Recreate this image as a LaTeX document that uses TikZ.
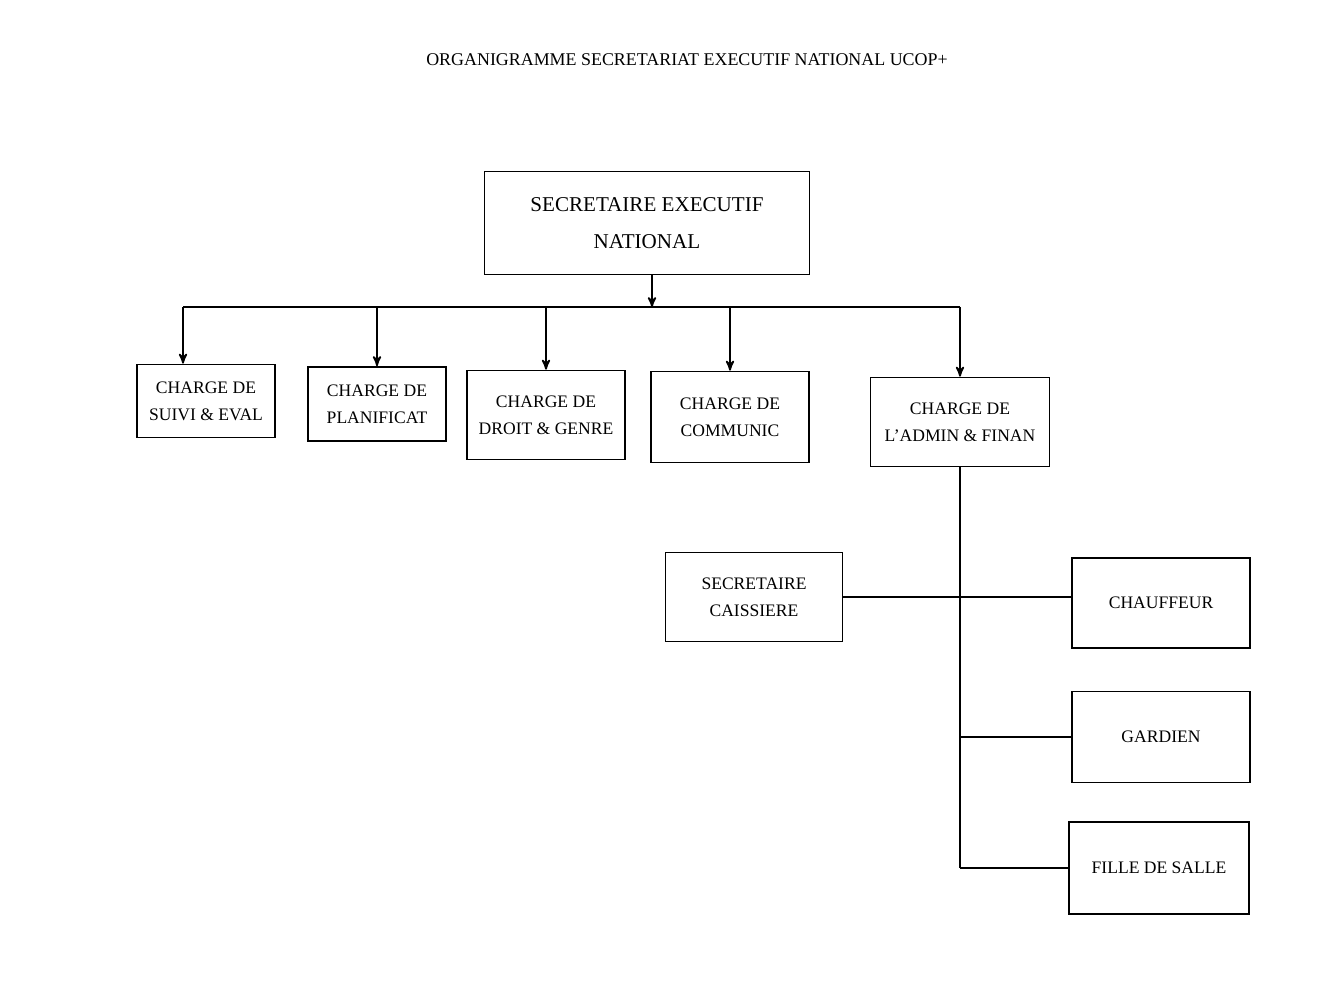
\documentclass[tikz,border=0pt]{standalone}
\usepackage{fontspec}
\setmainfont{Liberation Serif}
\usepackage{tikz}
\usetikzlibrary{arrows,positioning,calc}

\tikzset{
  postbox/.style={draw, rectangle, line width=1pt, inner sep=0pt, align=center,
    font=\fontsize{10}{15.5}\selectfont},
  linkline/.style={line width=1pt},
}

\begin{document}
\begin{tikzpicture}[x=0.02cm, y=-0.02cm, >=stealth']
    \useasboundingbox (0,0) rectangle (1332,1003);

    \node [font=\fontsize{10.2}{12}\selectfont] (title) at (687,60) {ORGANIGRAMME SECRETARIAT EXECUTIF NATIONAL UCOP+};

    % top level
    \node [postbox, minimum width=6.5cm, minimum height=2.06cm, font=\fontsize{12}{21}\selectfont] (sen) at (647,223) {SECRETAIRE EXECUTIF\\NATIONAL};

    % charges
    \node [postbox, minimum width=2.76cm, minimum height=1.46cm] (suivi) at (206,401) {CHARGE DE\\SUIVI \& EVAL};
    \node [postbox, minimum width=2.76cm, minimum height=1.48cm] (planif) at (377,404) {CHARGE DE\\PLANIFICAT};
    \node [postbox, minimum width=3.16cm, minimum height=1.78cm] (droit) at (546,415) {CHARGE DE\\DROIT \& GENRE};
    \node [postbox, minimum width=3.16cm, minimum height=1.82cm] (commun) at (730,417) {CHARGE DE\\COMMUNIC};
    \node [postbox, minimum width=3.58cm, minimum height=1.78cm] (admin) at (960,422) {CHARGE DE\\L'ADMIN \& FINAN};

    % under admin
    \node [postbox, minimum width=3.54cm, minimum height=1.78cm] (caiss) at (754,597) {SECRETAIRE\\CAISSIERE};
    \node [postbox, minimum width=3.56cm, minimum height=1.80cm] (chauf) at (1161,603) {CHAUFFEUR};
    \node [postbox, minimum width=3.56cm, minimum height=1.82cm] (gard) at (1161,737) {GARDIEN};
    \node [postbox, minimum width=3.60cm, minimum height=1.84cm] (fille) at (1159,868) {FILLE DE SALLE};

    \coordinate (bus) at (652,307);
    \coordinate (busL) at (183,307);
    \coordinate (spine) at (960,868);

    \draw [->, linkline] (sen.south -| bus) -- (bus);
    \draw [linkline] (busL) -- (bus -| admin);
    \draw [->, linkline] (busL) -- (busL |- suivi.north);
    \draw [->, linkline] (bus -| planif) -- (planif.north);
    \draw [->, linkline] (bus -| droit) -- (droit.north);
    \draw [->, linkline] (bus -| commun) -- (commun.north);
    \draw [->, linkline] (bus -| admin) -- (admin.north);

    \draw [linkline] (admin.south) -- (spine);
    \draw [linkline] (caiss.east) -- (caiss.east -| chauf.west);
    \draw [linkline] (gard.west -| spine) -- (gard.west);
    \draw [linkline] (spine) -- (fille.west);
\end{tikzpicture}
\end{document}
